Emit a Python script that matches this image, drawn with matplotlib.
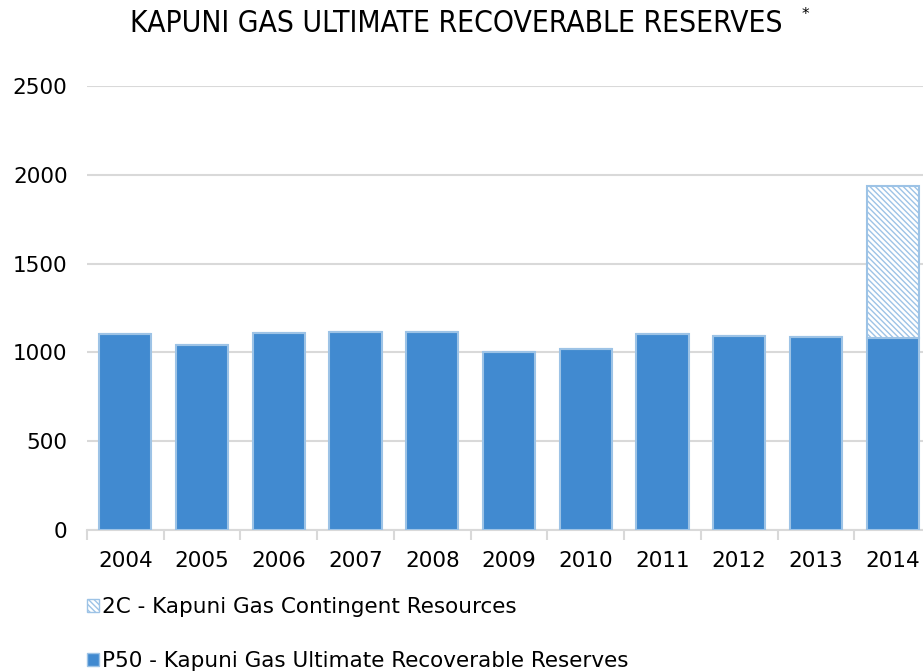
import numpy as np
import matplotlib.pyplot as plt
from matplotlib.patches import Patch

years = ['2004', '2005', '2006', '2007', '2008', '2009', '2010', '2011', '2012', '2013', '2014']
p50 = [1101, 1042, 1107, 1113, 1113, 1001, 1021, 1101, 1092, 1087, 1081]
contingent = [0, 0, 0, 0, 0, 0, 0, 0, 0, 0, 856]

blue = '#418AD0'
edge = '#9DC3E6'
grid = '#D9D9D9'

plt.rcParams['font.family'] = ['DejaVu Sans']
plt.rcParams['hatch.color'] = '#7FB2E5'
plt.rcParams['hatch.linewidth'] = 1.0

fig = plt.figure(figsize=(9.23, 6.72), dpi=100)
# axes extends past right edge like the original (last category is cut)
ax = fig.add_axes([87/923, 1 - 530/672, 844/923, 444/672])

x = np.arange(len(years))
ax.bar(x, p50, width=0.68, color=blue, edgecolor=edge, linewidth=1.5, zorder=3)
ax.bar(x, contingent, width=0.68, bottom=p50, color='white', edgecolor=edge,
       hatch='\\\\\\\\\\\\', linewidth=1.5, zorder=3)

ax.set_xlim(-0.5, len(years) - 0.5)
ax.set_ylim(0, 2500)
ax.set_yticks(np.arange(0, 2501, 500))
ax.yaxis.grid(True, color=grid, linewidth=1.5, zorder=0)
ax.tick_params(axis='y', length=0, pad=14, labelsize=15.5)
ax.set_xticks(x)
ax.set_xticklabels(years)
ax.set_xticks(np.arange(-0.5, len(years)), minor=True)
ax.tick_params(axis='x', which='major', length=0, pad=15, labelsize=15.5)
ax.tick_params(axis='x', which='minor', length=7, color=grid, width=1.5)
for s in ['top', 'right', 'left']:
    ax.spines[s].set_visible(False)
ax.spines['bottom'].set_color(grid)
ax.spines['bottom'].set_linewidth(1.5)

fig.text(456/923, 1 - 23/672, 'KAPUNI GAS ULTIMATE RECOVERABLE RESERVES',
         ha='center', va='center', fontsize=21.5, fontstretch='condensed',
         family=['DejaVu Sans'])
fig.text(805/923, 1 - 14/672, '*', ha='center', va='center', fontsize=11)

handles = [Patch(facecolor='white', edgecolor=edge, hatch='\\\\\\\\\\\\'),
           Patch(facecolor=blue, edgecolor=edge)]
labels = ['2C - Kapuni Gas Contingent Resources',
          'P50 - Kapuni Gas Ultimate Recoverable Reserves']
fig.legend(handles, labels, loc='upper left', bbox_to_anchor=(87/923, 1 - 597/672),
           frameon=False, fontsize=15.5, handlelength=0.55, handleheight=0.55,
           handletextpad=0.15, labelspacing=1.6, borderaxespad=0, borderpad=0)

plt.savefig('out.png', dpi=100)
